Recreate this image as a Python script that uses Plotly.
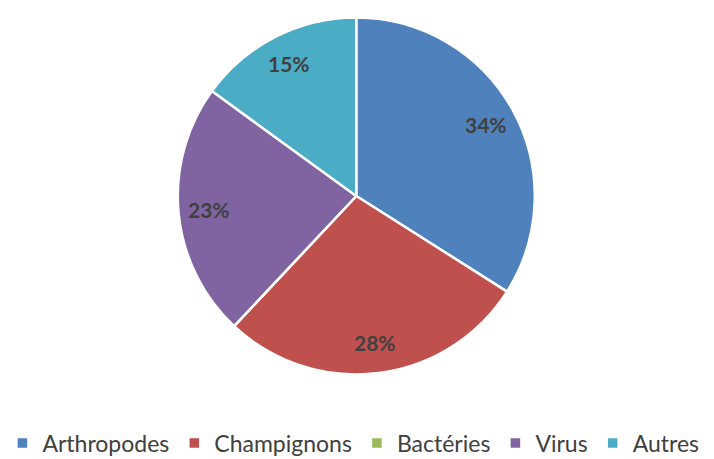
import math
import plotly.graph_objects as go

labels = ["Arthropodes", "Champignons", "Bactéries", "Virus", "Autres"]
values = [34, 28, 0, 23, 15]
colors = ["#4F81BD", "#C0504D", "#9BBB59", "#8064A2", "#4BACC6"]

W, H = 714, 459
dom_x = [0.249, 0.749]
dom_y = [0.181, 0.965]

fig = go.Figure(go.Pie(
    labels=labels,
    values=values,
    sort=False,
    direction="clockwise",
    rotation=0,
    marker=dict(colors=colors, line=dict(color="white", width=2.5)),
    textinfo="none",
    domain=dict(x=dom_x, y=dom_y),
    hoverinfo="label+percent",
))

# Data labels placed at ~83% of radius along each slice's mid-angle
cx = (dom_x[0] + dom_x[1]) / 2 * W
cy = (dom_y[0] + dom_y[1]) / 2 * H
R = min((dom_x[1] - dom_x[0]) * W, (dom_y[1] - dom_y[0]) * H) / 2
total = sum(values)
cum = 0
for v in values:
    if v > 0:
        mid = (cum + v / 2) / total * 2 * math.pi
        r = 0.83 * R
        px = cx + math.sin(mid) * r
        py = cy + math.cos(mid) * r
        fig.add_annotation(
            x=px / W, y=py / H, xref="paper", yref="paper",
            xanchor="center", yanchor="middle",
            text=f"<b>{round(v / total * 100)}%</b>", showarrow=False,
            font=dict(family="Lato", size=21, color="#404040"),
        )
    cum += v

fig.update_layout(
    width=W, height=H,
    margin=dict(l=0, r=0, t=0, b=0, autoexpand=False),
    paper_bgcolor="white",
    plot_bgcolor="white",
    showlegend=True,
    legend=dict(
        orientation="h",
        x=0.495, xanchor="center",
        y=-0.012, yanchor="bottom",
        font=dict(family="Lato", size=23, color="#404040"),
        itemwidth=30,
        traceorder="normal",
    ),
)

fig.write_html("out.html")
